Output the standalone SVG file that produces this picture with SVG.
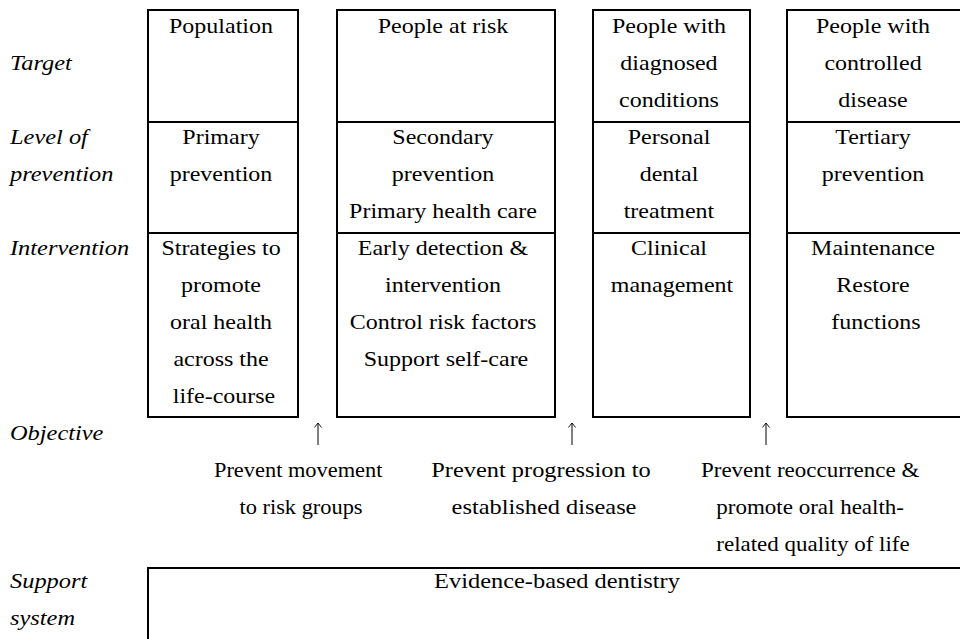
<svg xmlns="http://www.w3.org/2000/svg" width="960" height="639" viewBox="0 0 960 639" font-family="Liberation Serif, Times New Roman, serif">
<defs>
<style>
.box{fill:#fff;stroke:#000;stroke-width:2}
.sep{stroke:#000;stroke-width:2}
.t{font-size:20px;fill:#000;text-anchor:middle}
.l{font-size:20px;font-style:italic;fill:#000}
.arr{stroke:#000;stroke-width:1;fill:none}
</style>
<marker id="ah" viewBox="0 0 10 10" refX="9" refY="5" markerWidth="9" markerHeight="9" markerUnits="userSpaceOnUse" orient="auto">
<path d="M4,1 L9,5 L4,9" fill="none" stroke="#000" stroke-width="1"/>
</marker>
</defs>
<rect width="960" height="639" fill="#fff"/>

<g id="labels">
<text class="l" transform="matrix(1.22 0 0 1 10 0)" x="0" y="70">Target</text>
<text class="l" transform="matrix(1.22 0 0 1 10 0)" x="0" y="144">Level of</text>
<text class="l" transform="matrix(1.22 0 0 1 10 0)" x="0" y="181">prevention</text>
<text class="l" transform="matrix(1.22 0 0 1 10 0)" x="0" y="255">Intervention</text>
<text class="l" transform="matrix(1.22 0 0 1 10 0)" x="0" y="440">Objective</text>
<text class="l" transform="matrix(1.22 0 0 1 10 0)" x="0" y="588">Support</text>
<text class="l" transform="matrix(1.22 0 0 1 10 0)" x="0" y="625">system</text>
</g>

<g id="col-population">
<rect class="box" x="148" y="10" width="150" height="407"/>
<line class="sep" x1="148" y1="122" x2="298" y2="122"/>
<line class="sep" x1="148" y1="233" x2="298" y2="233"/>
<text class="t" transform="matrix(1.2 0 0 1 224 0)">
<tspan x="0" y="33">Population</tspan>
<tspan x="0" y="144">Primary</tspan>
<tspan x="0" y="181">prevention</tspan>
<tspan x="0" y="255">Strategies to</tspan>
<tspan x="0" y="292">promote</tspan>
<tspan x="0" y="329">oral health</tspan>
<tspan x="0" y="366">across the</tspan>
<tspan x="0" y="403">life-course</tspan>
</text>
</g>

<g id="col-risk">
<rect class="box" x="337" y="10" width="218" height="407"/>
<line class="sep" x1="337" y1="122" x2="555" y2="122"/>
<line class="sep" x1="337" y1="233" x2="555" y2="233"/>
<text class="t" transform="matrix(1.2 0 0 1 446 0)">
<tspan x="0" y="33">People at risk</tspan>
<tspan x="0" y="144">Secondary</tspan>
<tspan x="0" y="181">prevention</tspan>
<tspan x="0" y="218">Primary health care</tspan>
<tspan x="0" y="255">Early detection &amp;</tspan>
<tspan x="0" y="292">intervention</tspan>
<tspan x="0" y="329">Control risk factors</tspan>
<tspan x="0" y="366">Support self-care</tspan>
</text>
</g>

<g id="col-diagnosed">
<rect class="box" x="593" y="10" width="157" height="407"/>
<line class="sep" x1="593" y1="122" x2="750" y2="122"/>
<line class="sep" x1="593" y1="233" x2="750" y2="233"/>
<text class="t" transform="matrix(1.2 0 0 1 672 0)">
<tspan x="0" y="33">People with</tspan>
<tspan x="0" y="70">diagnosed</tspan>
<tspan x="0" y="107">conditions</tspan>
<tspan x="0" y="144">Personal</tspan>
<tspan x="0" y="181">dental</tspan>
<tspan x="0" y="218">treatment</tspan>
<tspan x="0" y="255">Clinical</tspan>
<tspan x="0" y="292">management</tspan>
</text>
</g>

<g id="col-controlled">
<rect class="box" x="787" y="10" width="180" height="407"/>
<line class="sep" x1="787" y1="122" x2="967" y2="122"/>
<line class="sep" x1="787" y1="233" x2="967" y2="233"/>
<text class="t" transform="matrix(1.2 0 0 1 876 0)">
<tspan x="0" y="33">People with</tspan>
<tspan x="0" y="70">controlled</tspan>
<tspan x="0" y="107">disease</tspan>
<tspan x="0" y="144">Tertiary</tspan>
<tspan x="0" y="181">prevention</tspan>
<tspan x="0" y="255">Maintenance</tspan>
<tspan x="0" y="292">Restore</tspan>
<tspan x="0" y="329">functions</tspan>
</text>
</g>

<g id="connectors">
<line class="arr" x1="318" y1="445" x2="318" y2="423" marker-end="url(#ah)"/>
<line class="arr" x1="572" y1="445" x2="572" y2="423" marker-end="url(#ah)"/>
<line class="arr" x1="766" y1="445" x2="766" y2="423" marker-end="url(#ah)"/>
</g>

<g id="objectives">
<text class="t" transform="matrix(1.12 0 0 1 301 0)">
<tspan x="0" y="477">Prevent movement</tspan>
<tspan x="0" y="514">to risk groups</tspan>
</text>
<text class="t" transform="matrix(1.22 0 0 1 544 0)">
<tspan x="0" y="477">Prevent progression to</tspan>
<tspan x="0" y="514">established disease</tspan>
</text>
<text class="t" transform="matrix(1.15 0 0 1 813 0)">
<tspan x="0" y="477">Prevent reoccurrence &amp;</tspan>
<tspan x="0" y="514">promote oral health-</tspan>
<tspan x="0" y="551">related quality of life</tspan>
</text>
</g>

<g id="support">
<rect class="box" x="148" y="568" width="830" height="90"/>
<text class="t" transform="matrix(1.22 0 0 1 557 0)" x="0" y="588">Evidence-based dentistry</text>
</g>
</svg>
